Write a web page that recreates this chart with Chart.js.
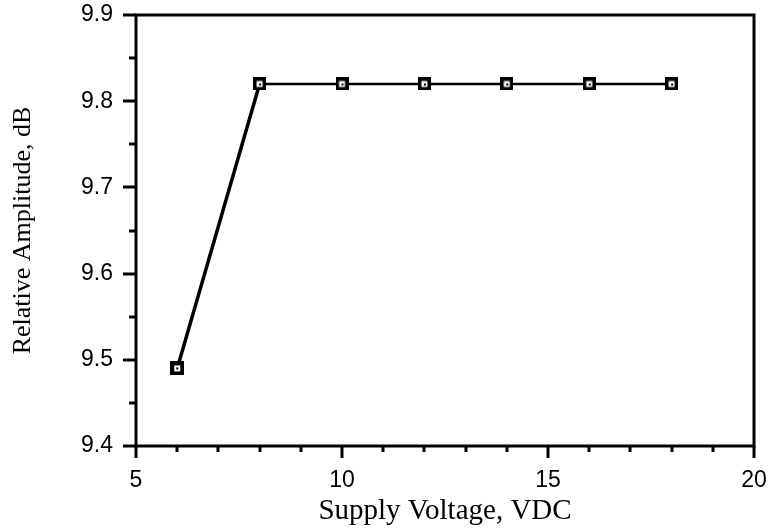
<!DOCTYPE html>
<html>
<head>
<meta charset="utf-8">
<script src="https://cdn.jsdelivr.net/npm/chart.js@4"></script>
<style>
html,body{margin:0;padding:0;background:#fff;}
#wrap{width:773px;height:529px;}
</style>
</head>
<body>
<div id="wrap"><canvas id="c" width="773" height="529"></canvas></div>
<script>
const supplyVoltage = [6, 8, 10, 12, 14, 16, 18];
const relativeAmplitude = [9.49, 9.82, 9.82, 9.82, 9.82, 9.82, 9.82];
const xTickLabels = [5, 10, 15, 20];
const yTickLabels = [9.4, 9.5, 9.6, 9.7, 9.8, 9.9];

function makeMarker(size, border) {
  const cv = document.createElement('canvas');
  cv.width = size; cv.height = size;
  const g = cv.getContext('2d');
  g.fillStyle = '#000';
  g.fillRect(0, 0, size, size);
  g.fillStyle = '#fff';
  g.fillRect(border, border, size - 2 * border, size - 2 * border);
  g.fillStyle = '#000';
  const c = size / 2;
  g.fillRect(Math.round(c - 1), Math.round(c - 1), 2, 2);
  return cv;
}
const markerBig = makeMarker(14, 4);
const marker = makeMarker(13, 3.5);

const framePlugin = {
  id: 'frame',
  afterDatasetsDraw(chart) {
    const ctx = chart.ctx;
    const a = chart.chartArea;
    const xs = chart.scales.x, ys = chart.scales.y;
    ctx.save();
    ctx.strokeStyle = '#000';
    ctx.lineWidth = 3;
    ctx.strokeRect(a.left, a.top, a.right - a.left, a.bottom - a.top);
    const ySteps = Math.round((ys.max - ys.min) / 0.05);
    for (let i = 0; i <= ySteps; i++) {
      const v = ys.min + i * 0.05;
      const py = Math.round(ys.getPixelForValue(v));
      const len = (i % 2 === 0) ? 13 : 7;
      ctx.beginPath();
      ctx.moveTo(a.left, py);
      ctx.lineTo(a.left - len, py);
      ctx.stroke();
    }
    for (let v = xs.min; v <= xs.max + 1e-9; v += 1) {
      const px = Math.round(xs.getPixelForValue(v));
      const len = (Math.round(v) % 5 === 0) ? 12 : 6;
      ctx.beginPath();
      ctx.moveTo(px, a.bottom);
      ctx.lineTo(px, a.bottom + len);
      ctx.stroke();
    }
    ctx.restore();
  }
};

new Chart(document.getElementById('c'), {
  type: 'line',
  data: {
    datasets: [{
      data: supplyVoltage.map((x, i) => ({x: x, y: relativeAmplitude[i]})),
      borderColor: '#000',
      borderWidth: 3,
      segment: {
        borderWidth: ctx => ctx.p0DataIndex < 1 ? 3.5 : 2.5
      },
      pointStyle: ctx => ctx.dataIndex === 0 ? markerBig : marker,
      pointRadius: 7,
      pointHoverRadius: 7,
      tension: 0,
      fill: false
    }]
  },
  options: {
    responsive: false,
    animation: false,
    events: [],
    layout: { padding: { top: 15, right: 19, left: 0, bottom: 0 } },
    plugins: { legend: { display: false }, tooltip: { enabled: false } },
    scales: {
      x: {
        type: 'linear',
        min: 5, max: 20,
        afterFit(s) { s.height = 83; s.paddingLeft = 0; s.paddingRight = 0; },
        afterBuildTicks(s) { s.ticks = xTickLabels.map(v => ({value: v})); },
        grid: { display: false, drawTicks: false },
        border: { display: false },
        ticks: {
          padding: 21,
          color: '#000',
          font: { family: '"Liberation Sans", Arial, sans-serif', size: 23 },
          callback: v => String(v)
        },
        title: {
          display: true,
          text: 'Supply Voltage, VDC',
          color: '#000',
          font: { family: '"Liberation Serif", "Times New Roman", serif', size: 29, lineHeight: 1.2 },
          padding: { top: 2, bottom: 0 }
        }
      },
      y: {
        type: 'linear',
        min: 9.4, max: 9.9,
        afterFit(s) { s.width = 136; s.paddingTop = 0; s.paddingBottom = 0; },
        afterBuildTicks(s) { s.ticks = yTickLabels.map(v => ({value: v})); },
        grid: { display: false, drawTicks: false },
        border: { display: false },
        ticks: {
          padding: 23,
          color: '#000',
          font: { family: '"Liberation Sans", Arial, sans-serif', size: 23 },
          callback: v => v.toFixed(1)
        },
        title: {
          display: true,
          text: 'Relative Amplitude, dB',
          color: '#000',
          font: { family: '"Liberation Serif", "Times New Roman", serif', size: 26, lineHeight: 1.2 },
          padding: { top: 8, bottom: 0 }
        }
      }
    }
  },
  plugins: [framePlugin]
});
</script>
</body>
</html>
